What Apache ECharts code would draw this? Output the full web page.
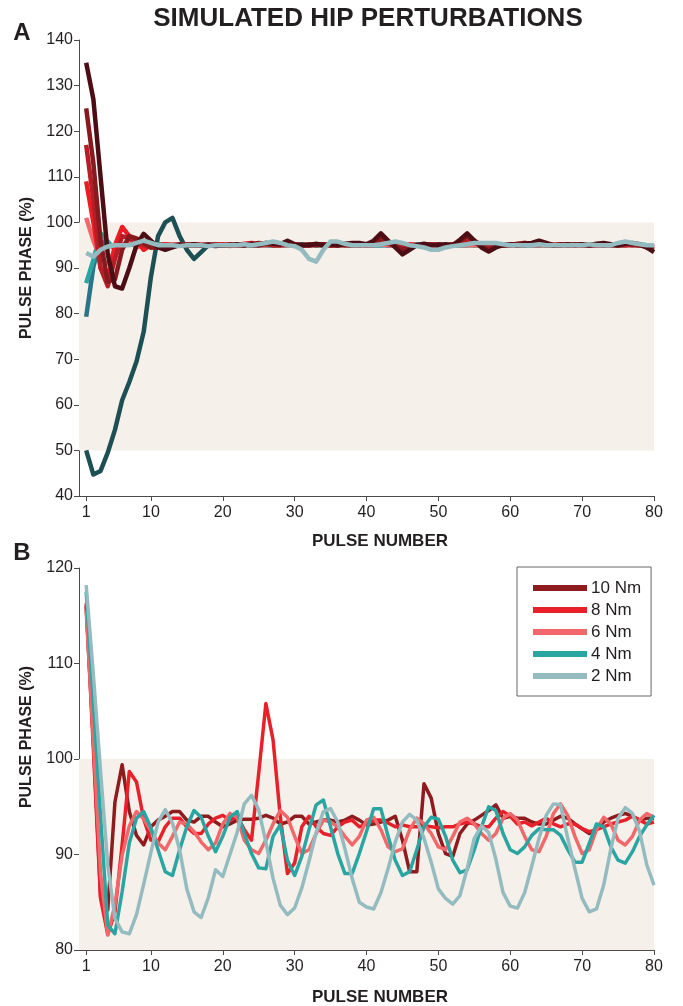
<!DOCTYPE html>
<html>
<head>
<meta charset="utf-8">
<style>
  html, body { margin: 0; padding: 0; background: #fff; }
  #chart { width: 683px; height: 1006px; }
</style>
<script src="https://cdn.jsdelivr.net/npm/echarts@6/dist/echarts.min.js"></script>
</head>
<body>
<div id="chart"></div>
<script>
// pulse numbers shared by both panels
const pulses = [1, 2, 3, 4, 5, 6, 7, 8, 9, 10, 11, 12, 13, 14, 15, 16, 17, 18, 19, 20,
  21, 22, 23, 24, 25, 26, 27, 28, 29, 30, 31, 32, 33, 34, 35, 36, 37, 38, 39, 40,
  41, 42, 43, 44, 45, 46, 47, 48, 49, 50, 51, 52, 53, 54, 55, 56, 57, 58, 59, 60,
  61, 62, 63, 64, 65, 66, 67, 68, 69, 70, 71, 72, 73, 74, 75, 76, 77, 78, 79, 80];
const xTicks = [1, 10, 20, 30, 40, 50, 60, 70, 80];

// panel A: pulse phase after hip perturbations at different starting phases
const phaseA135 = [135, 127, 110, 93, 86, 85.5, 90, 95, 97.5, 96, 94.5, 94, 94.5, 95, 95, 95.2, 95, 95, 94.8, 95,
  95, 95.2, 95, 95.3, 95, 95.5, 95.3, 95.2, 96, 95.2, 95, 95, 95.3, 95, 95.2, 95, 95.3, 95.5, 95.5, 95.2,
  96, 97.6, 96, 94.5, 93, 94, 95, 95.3, 95, 95, 95.2, 95, 96.2, 97.6, 96, 94.5, 93.6, 94.5, 95, 95.2,
  95, 95.3, 95.5, 96, 95.5, 95, 95, 95.2, 95, 95.2, 95, 95.3, 95.5, 95.2, 95, 95.3, 95.5, 95.2, 94.5, 93.5];
const phaseA125 = [125, 113, 96, 87, 87.5, 94, 97, 96.5, 95.5, 94.5, 94.5, 95, 95, 95.2, 95, 95, 95, 95.2, 95, 95,
  95.2, 95, 95, 95.2, 95.5, 95.3, 95.5, 95.2, 95.5, 95, 95, 95.2, 95, 95.2, 95, 95, 95.2, 95.3, 95, 95.2,
  95.5, 96.5, 95.8, 94.8, 94, 94.5, 95, 95.2, 95, 95.2, 95, 95, 95.8, 97, 96, 95, 94, 94.8, 95, 95,
  95.3, 95.5, 95.2, 95.5, 95.3, 95, 95.2, 95, 95.2, 95, 95, 95.2, 95, 95.2, 95, 95.5, 95.2, 95, 94.5, 94];
const phaseA117 = [117, 105, 90, 86, 92, 97, 96.5, 95.5, 95, 94.5, 94.8, 95, 95, 95, 95.2, 95, 95, 95, 95.2, 95,
  95, 95, 95.2, 95, 95, 95.2, 95, 95, 95.2, 95, 95, 95, 95.2, 95, 95, 95.2, 95, 95, 95.2, 95,
  95, 95.5, 95.3, 95, 94.5, 94.8, 95, 95, 95.2, 95, 95, 95.2, 95.5, 96.3, 95.5, 95, 94.5, 95, 95, 95.2,
  95, 95, 95.2, 95.3, 95, 95, 95.2, 95, 95, 95.2, 95, 95, 95.2, 95, 95, 95.2, 95, 95, 95, 94.5];
const phaseA109 = [109, 100, 90, 87, 95, 99, 97, 96, 94, 95, 95, 95.2, 95, 95, 95, 95.2, 95, 95, 95, 95.2,
  95, 95, 95.3, 95.5, 95.2, 95.5, 95, 95, 95.5, 95.2, 95, 95, 95.2, 95, 95, 95, 95.2, 95, 95, 95,
  95.2, 95.5, 95.3, 95, 95, 95.2, 95, 95, 95.2, 95, 95, 95, 95.3, 95.8, 95.5, 95, 95, 95.2, 95, 95.2,
  95, 95.5, 95.3, 95.5, 95.2, 95, 95, 95.2, 95, 95, 95.2, 95, 95, 95.2, 95, 95, 95.2, 95, 95, 94.8];
const phaseA101 = [101, 96, 92, 91, 94, 95, 96, 94.5, 95, 94.8, 95, 95, 95.2, 95, 95, 95, 95.2, 95, 95, 95,
  94.8, 95, 95, 95.2, 95, 95, 95.2, 95, 95, 94.8, 95, 95, 95, 95.2, 95, 95, 95, 95.2, 95, 95,
  95, 95.2, 95, 95, 95, 95.2, 95, 95, 94.8, 95, 95, 95.2, 95, 95, 95, 95, 95.2, 95, 95, 95,
  95, 95.2, 95, 95, 95, 95.2, 95, 95, 95, 95, 95.2, 95, 95, 95, 95.2, 95, 95, 95, 95, 95];
const phaseA93 = [93.3, 92.5, 94, 94.7, 95, 95, 95, 95.5, 96, 95.5, 95, 95, 95, 94.8, 95, 95, 95, 94.8, 95, 95,
  95, 95, 95.2, 95, 95.2, 95.5, 95.8, 95.5, 95, 94.8, 94, 92, 91.4, 94, 95.8, 95.8, 95.3, 95, 95, 95,
  95, 95.2, 95.5, 95.8, 95.5, 95, 94.8, 94.5, 94, 94, 94.5, 94.8, 95, 95.2, 95.5, 95.5, 95.5, 95.5, 95.2, 95,
  95, 95, 95, 95.2, 95, 95, 95, 95, 95, 95, 95.2, 95, 95, 95, 95.5, 95.8, 95.5, 95.2, 95, 95];
const phaseA87 = [86.7, 91.8, 97.6, 95.8, 94, 95, 95.5, 95, 95, 95, 95.2, 95, 95, 95, 95, 95, 95.2, 95, 95, 95,
  95, 95, 95, 95.2, 95, 95, 95, 95, 95.2, 95, 95, 95, 95, 95, 95, 95.2, 95, 95, 95, 95,
  95, 95, 95.2, 95, 95, 95, 95, 95, 95, 95.2, 95, 95, 95, 95, 95, 95, 95.2, 95, 95, 95,
  95, 95, 95, 95.2, 95, 95, 95, 95, 95, 95, 95.2, 95, 95, 95, 95, 95, 95, 95.2, 95, 95];
const phaseA79 = [79.3, 90.3, 96, 95, 94.5, 95, 95.2, 95, 95, 95, 95, 95.2, 95, 95, 95, 95, 95, 95, 95.2, 95,
  95, 95, 95, 95, 95, 95.2, 95, 95, 95, 95, 95, 95, 95.2, 95, 95, 95, 95, 95, 95, 95.2,
  95, 95, 95, 95, 95, 95, 95.2, 95, 95, 95, 95, 95, 95, 95, 95.2, 95, 95, 95, 95, 95,
  95, 95.2, 95, 95, 95, 95, 95, 95, 95, 95.2, 95, 95, 95, 95, 95, 95, 95.2, 95, 95, 95];
const phaseA50 = [50, 44.7, 45.5, 49.5, 54.5, 61, 65, 69.5, 76, 88, 97, 100, 101, 97, 94, 92, 93.5, 95, 95, 95,
  95, 95, 95.2, 95, 95, 95, 95, 95, 95, 95, 95.2, 95, 95, 95, 95, 95, 95, 95, 95, 95,
  95, 95.2, 95, 95, 95, 95, 95, 95, 95, 95, 95, 95, 95, 95.2, 95, 95, 95, 95, 95, 95,
  95, 95, 95, 95, 95.2, 95, 95, 95, 95, 95, 95, 95, 95, 95, 95, 95, 95.2, 95, 95, 95];

// panel B: pulse phase for hip torque amplitudes
const torque10 = [116, 102, 85.6, 84.2, 95.5, 99.4, 94.5, 92, 91, 92.9, 93.6, 94, 94.5, 94.5, 93.6, 93.4, 94, 94, 93.4, 92.9,
  93.2, 93.6, 93.7, 93.7, 93.8, 94.1, 93.8, 93.2, 93.4, 94, 94, 93.2, 93.4, 93.6, 93.6, 93.4, 93.6, 94, 93.6, 93.1,
  93.2, 93.4, 93.6, 94, 91.5, 88.2, 88.2, 97.4, 95.9, 92.2, 90.1, 89.8, 92.2, 93.2, 93.6, 94.1, 94.6, 95.2, 93.8, 94,
  93.8, 93.8, 93.4, 93.2, 93.2, 93.6, 94, 93.8, 93.2, 92.7, 92.2, 92.6, 93.4, 93.8, 94.1, 94.3, 94, 93.6, 93.8, 93.8];
const torque8 = [116.3, 101, 85.4, 81.6, 84, 91, 98.7, 97.6, 93.7, 91.5, 91.3, 92.9, 93.8, 93.8, 92.9, 92.2, 92.2, 93.2, 93.8, 94.1,
  93.6, 94, 92.6, 91.5, 98.5, 105.8, 102, 94, 88, 89.1, 92.9, 94, 92.9, 92.2, 92, 92.9, 93.4, 93.6, 92.9, 93.2,
  93.6, 93.6, 93.3, 92.9, 93.1, 92.9, 92.9, 93, 92.9, 92.8, 92.9, 92.9, 93.2, 93.4, 93.2, 92.9, 92.9, 93.8, 94.5, 94,
  93.2, 93.4, 93, 93.4, 93.8, 93.2, 92.9, 93.2, 93.2, 92.7, 92.4, 92.6, 92.9, 93.2, 93.4, 93.6, 94, 93.6, 93.2, 93.4];
const torque6 = [115.5, 102, 88, 81.6, 84.7, 89.9, 93, 94.5, 93.7, 92.5, 91.2, 90.5, 91.9, 93.4, 93.2, 92.4, 91.3, 90.5, 91.2, 93.2,
  94.3, 93.9, 91.5, 90.5, 90.1, 91.5, 93.2, 94.6, 93.9, 91.9, 90.1, 90.5, 92.2, 93.6, 93.4, 92.9, 91.9, 91, 91.9, 93.6,
  93.9, 92.6, 90.8, 90.3, 90.6, 92.6, 93.8, 93.2, 92.2, 90.8, 90.5, 91.9, 93.4, 93.8, 93.2, 92.2, 91.5, 92.2, 93.8, 94.3,
  93.6, 91.9, 90.5, 90.3, 91.9, 94.3, 95.3, 94.1, 91.9, 90.1, 90.5, 92.6, 93.9, 93.2, 91.5, 91, 91.9, 93.6, 94.3, 93.9];
const torque4 = [117.5, 106, 94, 82.6, 81.7, 86.1, 91.2, 93.8, 94.5, 92.8, 90.5, 88.2, 87.8, 90.5, 92.9, 94.6, 93.9, 91.9, 90.3, 91.9,
  93.9, 94.5, 92.2, 90.1, 88.6, 88.5, 91.9, 93.1, 89.4, 87.8, 89.8, 92.6, 95.2, 95.7, 92.9, 90.1, 88, 88, 90.1, 92.4,
  94.8, 94.8, 91.9, 89.4, 87.8, 88.2, 90.5, 92.9, 93.9, 93.7, 91.9, 89.4, 88.1, 88.4, 90.5, 92.9, 95, 94.6, 92.2, 90.5,
  90.1, 90.8, 92, 92.7, 92.6, 92.6, 92, 90.5, 89.2, 89.2, 91.2, 93.2, 92.9, 90.8, 89.4, 89.1, 90.3, 91.9, 93.1, 94.1];
const torque2 = [118.2, 108.8, 98.7, 88.9, 83.3, 81.9, 81.7, 83.7, 86.9, 90.2, 93.4, 94.7, 93.3, 90.5, 86.4, 84, 83.4, 85.5, 88.4, 87.7,
  90, 92.3, 95.3, 96.2, 94.7, 91.3, 87.5, 84.7, 83.7, 84.4, 86.5, 89.3, 92.3, 94.5, 94.8, 93.4, 90.6, 87.5, 85, 84.5,
  84.3, 86, 88.5, 91.3, 93.4, 94.2, 93.6, 91.7, 89.2, 86.4, 85.4, 84.8, 85.7, 88.5, 91.7, 93, 92.3, 89.5, 86, 84.6,
  84.4, 86, 88.8, 91.7, 94.1, 95.3, 95.2, 91.7, 88.5, 85.4, 84, 84.3, 86.8, 90.6, 93.8, 94.9, 94.3, 92.4, 88.9, 86.8];

const torqueNames = ['10 Nm', '8 Nm', '6 Nm', '4 Nm', '2 Nm'];

const chart = echarts.init(document.getElementById('chart'));

const textColor = '#231F20';
const axisColor = '#4a4a4a';
const shadeColor = '#F5F0EA';
const font = 'Liberation Sans, Arial, sans-serif';

function pairs(values) {
  return values.map((v, i) => [pulses[i], v]);
}

function xAxisFor(gridIndex) {
  return {
    type: 'value', gridIndex: gridIndex, min: 0, max: 80,
    axisLine: { show: true, onZero: false, lineStyle: { color: axisColor, width: 1 } },
    axisTick: { show: true, length: 5, customValues: xTicks, lineStyle: { color: axisColor } },
    axisLabel: { customValues: xTicks, color: textColor, fontSize: 16, fontFamily: font, margin: 9 },
    splitLine: { show: false }
  };
}

function yAxisFor(gridIndex, min, max) {
  return {
    type: 'value', gridIndex: gridIndex, min: min, max: max, interval: 10,
    axisLine: { show: true, lineStyle: { color: axisColor, width: 1 } },
    axisTick: { show: true, length: 5, lineStyle: { color: axisColor } },
    axisLabel: { color: textColor, fontSize: 16, fontFamily: font, margin: 6 },
    splitLine: { show: false }
  };
}

function shade(axisIndex, lo, hi) {
  return {
    type: 'line', xAxisIndex: axisIndex, yAxisIndex: axisIndex, data: [], z: 1, silent: true,
    markArea: {
      silent: true,
      itemStyle: { color: shadeColor },
      data: [[{ xAxis: 0, yAxis: lo }, { xAxis: 80, yAxis: hi }]]
    }
  };
}

function line(name, axisIndex, values, color, width) {
  return {
    name: name, type: 'line', xAxisIndex: axisIndex, yAxisIndex: axisIndex,
    data: pairs(values), showSymbol: false, symbol: 'none', z: 3,
    lineStyle: { color: color, width: width, join: 'round' },
    itemStyle: { color: color }
  };
}

const series = [
  shade(0, 50, 100),
  line('A50', 0, phaseA50, '#1D5055', 4.5),
  line('A79', 0, phaseA79, '#2B7389', 4.5),
  line('A87', 0, phaseA87, '#2AA5A2', 4.5),
  line('A101', 0, phaseA101, '#F2686A', 4.5),
  line('A109', 0, phaseA109, '#EC1C24', 4.5),
  line('A117', 0, phaseA117, '#B51E27', 4.5),
  line('A125', 0, phaseA125, '#861A1E', 4.5),
  line('A135', 0, phaseA135, '#4C0E14', 4.5),
  line('A93', 0, phaseA93, '#94BCC0', 4.5),
  shade(1, 80, 100),
  line(torqueNames[0], 1, torque10, '#8E1B1E', 3.5),
  line(torqueNames[1], 1, torque8, '#E8202A', 3.5),
  line(torqueNames[2], 1, torque6, '#F2686A', 3.5),
  line(torqueNames[3], 1, torque4, '#2AA5A2', 3.5),
  line(torqueNames[4], 1, torque2, '#94BCC0', 3.5)
];

const option = {
  animation: false,
  backgroundColor: '#fff',
  grid: [
    { left: 79, top: 40, width: 575, height: 456 },
    { left: 79, top: 568, width: 575, height: 382 }
  ],
  xAxis: [xAxisFor(0), xAxisFor(1)],
  yAxis: [yAxisFor(0, 40, 140), yAxisFor(1, 80, 120)],
  legend: {
    data: torqueNames,
    orient: 'vertical',
    left: 517, top: 567,
    padding: [11, 10, 10, 16],
    borderColor: '#666', borderWidth: 1,
    icon: 'rect', itemWidth: 54, itemHeight: 6, itemGap: 2,
    textStyle: { color: textColor, fontSize: 17, fontFamily: font, lineHeight: 20, padding: [0, 0, 0, -1] }
  },
  graphic: [
    { type: 'text', x: 368, y: 19, style: { text: 'SIMULATED HIP PERTURBATIONS', fill: textColor, font: 'bold 26px ' + font, align: 'center', verticalAlign: 'middle' } },
    { type: 'text', x: 22, y: 33, style: { text: 'A', fill: textColor, font: 'bold 24px ' + font, align: 'center', verticalAlign: 'middle' } },
    { type: 'text', x: 22, y: 553, style: { text: 'B', fill: textColor, font: 'bold 24px ' + font, align: 'center', verticalAlign: 'middle' } },
    { type: 'text', x: 27, y: 268, rotation: Math.PI / 2, style: { text: 'PULSE PHASE (%)', fill: textColor, font: 'bold 16px ' + font, align: 'center', verticalAlign: 'middle' } },
    { type: 'text', x: 27, y: 737, rotation: Math.PI / 2, style: { text: 'PULSE PHASE (%)', fill: textColor, font: 'bold 16px ' + font, align: 'center', verticalAlign: 'middle' } },
    { type: 'text', x: 380, y: 541, style: { text: 'PULSE NUMBER', fill: textColor, font: 'bold 17px ' + font, align: 'center', verticalAlign: 'middle' } },
    { type: 'text', x: 380, y: 997, style: { text: 'PULSE NUMBER', fill: textColor, font: 'bold 17px ' + font, align: 'center', verticalAlign: 'middle' } }
  ],
  series: series
};

chart.setOption(option);
</script>
</body>
</html>
